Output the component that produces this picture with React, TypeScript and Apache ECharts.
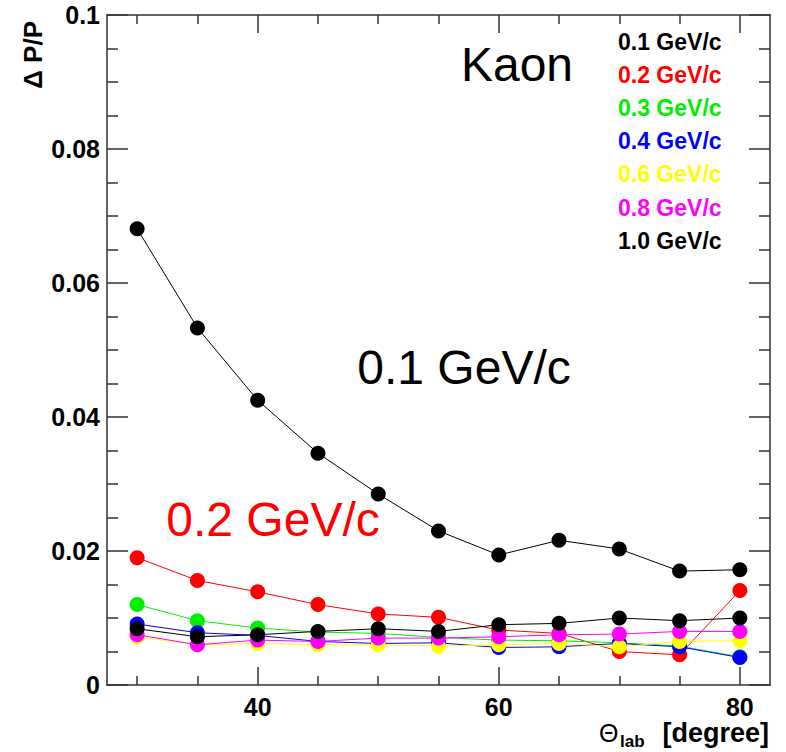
import React, { useEffect, useRef } from "react";
import * as echarts from "echarts";

const angles = [30, 35, 40, 45, 50, 55, 60, 65, 70, 75, 80];

const p01 = [0.0681, 0.0533, 0.0425, 0.0346, 0.0285, 0.023, 0.0194, 0.0216, 0.0203, 0.017, 0.0172];
const p02 = [0.019, 0.0156, 0.0139, 0.012, 0.0106, 0.0101, 0.0082, 0.0077, 0.005, 0.0045, 0.0141];
const p03 = [0.012, 0.0096, 0.0085, 0.0079, 0.0077, 0.0071, 0.0067, 0.0066, 0.0063, 0.0058, 0.0042];
const p04 = [0.0091, 0.0078, 0.0074, 0.0065, 0.0062, 0.0063, 0.0056, 0.0057, 0.0062, 0.0057, 0.0041];
const p06 = [0.0072, 0.006, 0.0062, 0.006, 0.006, 0.0058, 0.006, 0.0062, 0.0057, 0.0065, 0.0066];
const p08 = [0.0075, 0.006, 0.0067, 0.0065, 0.007, 0.007, 0.0072, 0.0075, 0.0076, 0.008, 0.008];
const p10 = [0.0084, 0.0072, 0.0075, 0.008, 0.0084, 0.008, 0.009, 0.0092, 0.01, 0.0096, 0.01];

const seriesNames = ["0.1 GeV/c", "0.2 GeV/c", "0.3 GeV/c", "0.4 GeV/c", "0.6 GeV/c", "0.8 GeV/c", "1.0 GeV/c"];
const seriesColors = ["#000000", "#ff0000", "#00ee00", "#0000ff", "#ffff00", "#ff00ff", "#000000"];
const seriesValues = [p01, p02, p03, p04, p06, p08, p10];

const xMajorTicks = [40, 60, 80];
const xMinorTicks = [30, 35, 45, 50, 55, 65, 70, 75];
const yMajorTicks = [0, 0.02, 0.04, 0.06, 0.08, 0.1];
const yMinorTicks = [0.005, 0.01, 0.015, 0.025, 0.03, 0.035, 0.045, 0.05, 0.055, 0.065, 0.07, 0.075, 0.085, 0.09, 0.095];

const FONT = "'Liberation Sans', Arial, Helvetica, sans-serif";
const AXIS_COLOR = "#333333";

function xAxisDef(position: string, ticks: number[], len: number, labels: boolean, line: boolean) {
  return {
    type: "value",
    gridIndex: 0,
    min: 27.5,
    max: 82.5,
    position,
    axisLine: { show: line, onZero: false, lineStyle: { color: AXIS_COLOR, width: 1.5 } },
    axisTick: { show: true, inside: true, length: len, customValues: ticks, lineStyle: { color: AXIS_COLOR, width: 1.5 } },
    axisLabel: labels
      ? { show: true, customValues: ticks, color: "#000", fontSize: 25, fontWeight: "bold", fontFamily: FONT, margin: 9 }
      : { show: false },
    splitLine: { show: false },
  };
}

function yAxisDef(position: string, ticks: number[], len: number, labels: boolean, line: boolean) {
  return {
    type: "value",
    gridIndex: 0,
    min: 0,
    max: 0.1,
    position,
    axisLine: { show: line, onZero: false, lineStyle: { color: AXIS_COLOR, width: 1.5 } },
    axisTick: { show: true, inside: true, length: len, customValues: ticks, lineStyle: { color: AXIS_COLOR, width: 1.5 } },
    axisLabel: labels
      ? {
          show: true,
          customValues: ticks,
          color: "#000",
          fontSize: 25,
          fontWeight: "bold",
          fontFamily: FONT,
          margin: 7,
          formatter: (v: number) => String(v),
        }
      : { show: false },
    splitLine: { show: false },
  };
}

export default function App() {
  const ref = useRef<HTMLDivElement>(null);

  useEffect(() => {
    if (!ref.current) return;
    const chart = echarts.init(ref.current, undefined, { renderer: "svg" });

    const series = seriesNames.map((name, i) => ({
      name,
      type: "line",
      xAxisIndex: 0,
      yAxisIndex: 0,
      data: angles.map((a, j) => [a, seriesValues[i][j]]),
      symbol: "circle",
      symbolSize: 15,
      showSymbol: true,
      itemStyle: { color: seriesColors[i] },
      lineStyle: { color: seriesColors[i], width: 1 },
      z: 2 + i,
    }));

    const legendTexts = seriesNames.map((name, i) => ({
      type: "text",
      left: 618,
      top: 30 + i * 33.2,
      style: {
        text: name,
        fill: seriesColors[i],
        font: `bold 23px ${FONT}`,
      },
      z: 100,
    }));

    chart.setOption({
      animation: false,
      backgroundColor: "#ffffff",
      grid: { left: 107, right: 16, top: 15, bottom: 67, containLabel: false },
      xAxis: [
        xAxisDef("bottom", xMajorTicks, 18, true, true),
        xAxisDef("bottom", xMinorTicks, 9, false, false),
        xAxisDef("top", xMajorTicks, 18, false, true),
        xAxisDef("top", xMinorTicks, 9, false, false),
      ],
      yAxis: [
        yAxisDef("left", yMajorTicks, 21, true, true),
        yAxisDef("left", yMinorTicks, 11, false, false),
        yAxisDef("right", yMajorTicks, 21, false, true),
        yAxisDef("right", yMinorTicks, 11, false, false),
      ],
      series,
      graphic: [
        ...legendTexts,
        {
          type: "text",
          x: 517,
          y: 64,
          style: { text: "Kaon", fill: "#000", font: `48px ${FONT}`, align: "center", verticalAlign: "middle" },
          z: 100,
        },
        {
          type: "text",
          x: 464,
          y: 367,
          style: { text: "0.1 GeV/c", fill: "#000", font: `48px ${FONT}`, align: "center", verticalAlign: "middle" },
          z: 100,
        },
        {
          type: "text",
          x: 273,
          y: 519,
          style: { text: "0.2 GeV/c", fill: "#ff0000", font: `48px ${FONT}`, align: "center", verticalAlign: "middle" },
          z: 100,
        },
        {
          type: "text",
          x: 33,
          y: 21,
          rotation: Math.PI / 2,
          style: { text: "Δ P/P", fill: "#000", font: `bold 26px ${FONT}`, align: "right", verticalAlign: "middle" },
          z: 100,
        },
        {
          type: "text",
          x: 599,
          y: 733,
          style: { text: "Θ", fill: "#000", font: `25px ${FONT}`, align: "left", verticalAlign: "middle" },
          z: 100,
        },
        {
          type: "text",
          x: 620,
          y: 741,
          style: { text: "lab", fill: "#000", font: `bold 17px ${FONT}`, align: "left", verticalAlign: "middle" },
          z: 100,
        },
        {
          type: "text",
          x: 769,
          y: 733,
          style: { text: "[degree]", fill: "#000", font: `bold 27px ${FONT}`, align: "right", verticalAlign: "middle" },
          z: 100,
        },
      ],
    });

    return () => chart.dispose();
  }, []);

  return (
    <div
      ref={ref}
      style={{ position: "fixed", left: 0, top: 0, width: 786, height: 752, background: "#fff" }}
    />
  );
}
